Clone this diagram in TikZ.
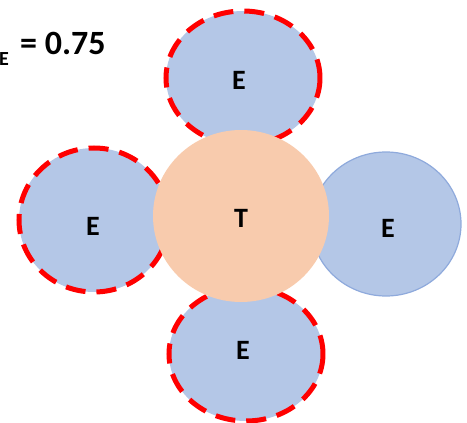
\documentclass[tikz,border=0pt]{standalone}
\usepackage{fontspec}
\setmainfont{Carlito}
\definecolor{efill}{HTML}{B4C7E7}
\definecolor{eline}{HTML}{8FAADC}
\definecolor{tfill}{HTML}{F8CBAD}
\definecolor{red0}{HTML}{FF0000}
\begin{document}
\begin{tikzpicture}[x=1pt,y=-1pt,
  eball/.style={fill=efill},
  redrim/.style={draw=red0,line width=5pt,dash pattern=on 20pt off 11pt},
  bluerim/.style={draw=eline,line width=1.2pt},
  lbl/.style={font=\fontsize{28}{32}\selectfont\bfseries}]
\useasboundingbox (0,0) rectangle (467,423);
% E circles
\path[eball,redrim] (243,78) ellipse [x radius=77, y radius=67];
\path[eball,redrim] (94,220) ellipse [x radius=75, y radius=72];
\path[eball,redrim] (246,354) ellipse [x radius=77, y radius=67];
\path[eball,bluerim] (386,224) ellipse [x radius=75, y radius=72];
% T circle
\path[fill=tfill] (241,216) ellipse [x radius=88, y radius=86];
\node[lbl] (t) at (241,218) {T};
\node[lbl] (etop) at (239,80) {E};
\node[lbl] (eleft) at (93,226) {E};
\node[lbl] (eright) at (388,228) {E};
\node[lbl] (ebot) at (243,350) {E};
\node[anchor=base west,inner sep=0,font=\fontsize{20}{22}\selectfont\bfseries] (sub) at (-1,65) {E};
\node[anchor=base west,inner sep=0,font=\fontsize{34}{38}\selectfont\bfseries] (val) at (20,54) {= 0.75};
\end{tikzpicture}
\end{document}
